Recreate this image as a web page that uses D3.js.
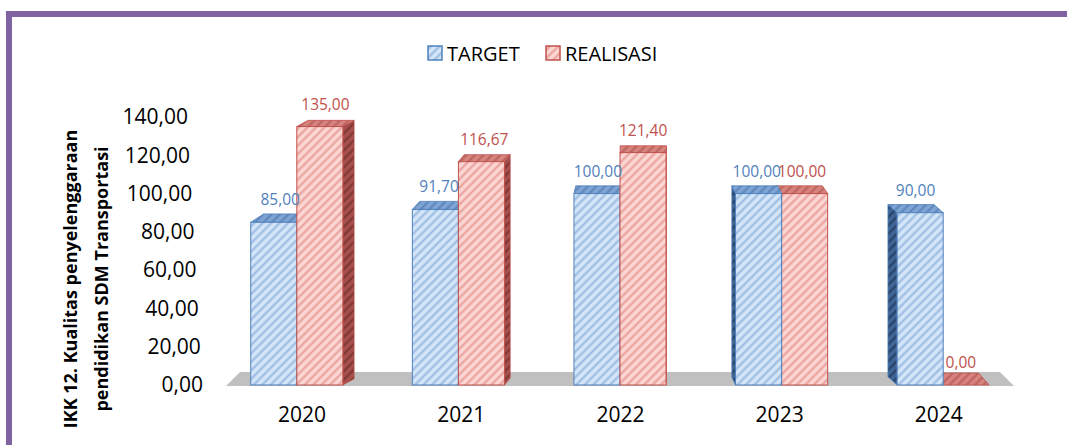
<!DOCTYPE html>
<html>
<head>
<meta charset="utf-8">
<script src="https://cdn.jsdelivr.net/npm/d3@7"></script>
<style>
  body { margin: 0; background: #fff; }
  svg { display: block; font-family: "Open Sans", sans-serif; }
</style>
</head>
<body>
<div id="chart"></div>
<script>
// data
var years = ["2020", "2021", "2022", "2023", "2024"];
var series = ["TARGET", "REALISASI"];
var target = [85.00, 91.70, 100.00, 100.00, 90.00];
var realisasi = [135.00, 116.67, 121.40, 100.00, 0.00];
var yTicks = [0, 20, 40, 60, 80, 100, 120, 140];
var yTitle = ["IKK 12. Kualitas penyelenggaraan", "pendidikan SDM Transportasi"];

var W = 1067, H = 445;
var vanishX = 650, k = 0.034;   // fake 3d perspective

var svg = d3.select("#chart").append("svg")
    .attr("width", W)
    .attr("height", H);

var locale = d3.formatLocale({decimal: ",", thousands: ".", grouping: [3], currency: ["", ""]});
var fmt = locale.format(".2f");

// scales
var x = d3.scaleBand().domain(years).range([216, 1024]).paddingInner(0.43).paddingOuter(0.215);
var x1 = d3.scaleBand().domain(series).range([0, x.bandwidth()]);
var y = d3.scaleLinear().domain([0, 140]).range([385, 117]);

var colors = {
  TARGET:    {front: ["#d3e5f8", "#98b9e0"], side: ["#3f6596", "#233f66"], top: ["#7fa5d4", "#5a84ba"], stroke: "#4f81bd", label: "#4f81bd"},
  REALISASI: {front: ["#fbd6d2", "#e89e99"], side: ["#a5504d", "#7a3432"], top: ["#d7847f", "#b9605c"], stroke: "#c0504d", label: "#c0504d"}
};

// hatch patterns
var defs = svg.append("defs");
function hatch(id, base, line) {
  var p = defs.append("pattern")
    .attr("id", id)
    .attr("patternUnits", "userSpaceOnUse")
    .attr("width", 6).attr("height", 6)
    .attr("patternTransform", "rotate(45)");
  p.append("rect").attr("width", 6).attr("height", 6).attr("fill", base);
  p.append("line").attr("x1", 1.5).attr("y1", 0).attr("x2", 1.5).attr("y2", 6)
    .attr("stroke", line).attr("stroke-width", 2);
}
series.forEach(function(s) {
  ["front", "side", "top"].forEach(function(f) {
    hatch(s + "-" + f, colors[s][f][0], colors[s][f][1]);
  });
});

// frame
svg.append("rect").attr("x", 6).attr("y", 11).attr("width", W - 6).attr("height", 6).attr("fill", "#8064a2");
svg.append("rect").attr("x", 6).attr("y", 11).attr("width", 6).attr("height", H - 11).attr("fill", "#8064a2");

// floor
var r = x.range();
var y0 = y(0);
svg.append("path")
  .attr("d", "M" + (r[0] + 10) + "," + (y0 + 1) + "L" + (r[0] + 24) + "," + (y0 - 13) +
             "L" + (r[1] - 24) + "," + (y0 - 13) + "L" + (r[1] - 10) + "," + (y0 + 1) + "Z")
  .attr("fill", "#c0c0c0");

// bars
var bars = [];
years.forEach(function(yr, i) {
  [target[i], realisasi[i]].forEach(function(v, j) {
    var s = series[j];
    var x0 = x(yr) + x1(s), w = x1.bandwidth();
    var cx = x0 + w / 2;
    bars.push({year: yr, s: s, v: v, x0: x0, w: w, cx: cx,
               dx: (vanishX - cx) * k, d: 12 - 6 * v / 140});
  });
});
bars.sort(function(a, b) { return Math.abs(b.cx - vanishX) - Math.abs(a.cx - vanishX); });

var barG = svg.append("g");
bars.forEach(function(b) {
  var g = barG.append("g");
  var yt = y(b.v), x0 = b.x0, x1e = b.x0 + b.w, dx = b.dx, d = b.d;
  var c = colors[b.s];
  var sx = dx > 0 ? x1e : x0;
  g.append("path")
    .attr("d", "M" + sx + "," + yt + "L" + (sx + dx) + "," + (yt - d) + "L" + (sx + dx) + "," + (y0 - d) + "L" + sx + "," + y0 + "Z")
    .attr("fill", "url(#" + b.s + "-side)")
    .attr("stroke", c.stroke).attr("stroke-width", 0.8);
  g.append("path")
    .attr("d", "M" + x0 + "," + yt + "L" + x1e + "," + yt + "L" + (x1e + dx) + "," + (yt - d) + "L" + (x0 + dx) + "," + (yt - d) + "Z")
    .attr("fill", "url(#" + b.s + "-top)")
    .attr("stroke", c.stroke).attr("stroke-width", 0.8);
  if (b.v > 0) {
    g.append("rect")
      .attr("x", x0).attr("y", yt)
      .attr("width", b.w).attr("height", y0 - yt)
      .attr("fill", "url(#" + b.s + "-front)")
      .attr("stroke", c.stroke).attr("stroke-width", 1);
  }
});

// value labels
svg.append("g").selectAll("text")
  .data(bars)
  .join("text")
    .attr("x", function(d) { return d.cx + d.dx / 2; })
    .attr("y", function(d) { return y(d.v) - 17; })
    .attr("text-anchor", "middle")
    .attr("font-size", 15.5)
    .attr("fill", function(d) { return colors[d.s].label; })
    .text(function(d) { return fmt(d.v); });

// y axis (labels only, slanted by the perspective)
var yAxis = svg.append("g")
  .attr("transform", "translate(203,0)")
  .call(d3.axisLeft(y).tickValues(yTicks).tickSize(0).tickPadding(0).tickFormat(fmt));
yAxis.select(".domain").remove();
yAxis.selectAll("text")
  .attr("x", function(d) { return -(y0 - y(d)) * 0.056; })
  .attr("font-size", 21)
  .attr("font-family", "Open Sans, sans-serif")
  .attr("fill", "#000");

// x axis labels
var xAxis = svg.append("g")
  .attr("transform", "translate(0,407)")
  .call(d3.axisBottom(x).tickSize(0).tickPadding(0));
xAxis.select(".domain").remove();
xAxis.selectAll(".tick")
  .attr("transform", function(d) { var cx = x(d) + x.bandwidth() / 2; return "translate(" + (cx + (vanishX - cx) * 0.015) + ",0)"; });
xAxis.selectAll("text")
  .attr("font-size", 21)
  .attr("font-family", "Open Sans, sans-serif")
  .attr("fill", "#000");

// y title
yTitle.forEach(function(t, i) {
  svg.append("text")
    .attr("transform", "translate(" + (77 + i * 31) + ",279) rotate(-90)")
    .attr("text-anchor", "middle")
    .attr("font-size", 18)
    .attr("font-weight", "bold")
    .text(t);
});

// legend
var legend = svg.append("g");
var legX = [428, 546];
series.forEach(function(s, i) {
  legend.append("rect")
    .attr("x", legX[i]).attr("y", 46)
    .attr("width", 14).attr("height", 14)
    .attr("fill", "url(#" + s + "-front)")
    .attr("stroke", colors[s].stroke).attr("stroke-width", 1.5);
  legend.append("text")
    .attr("x", legX[i] + 19).attr("y", 60.5)
    .attr("font-size", 20)
    .text(s);
});
</script>
</body>
</html>
